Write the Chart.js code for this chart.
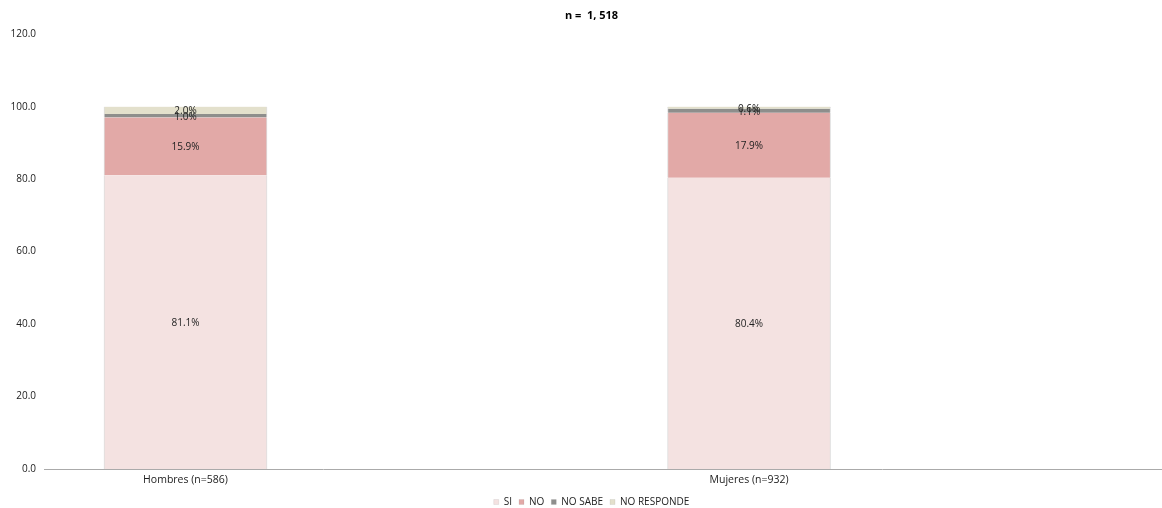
<!DOCTYPE html>
<html>
<head>
<meta charset="utf-8">
<script src="https://cdn.jsdelivr.net/npm/chart.js@4/dist/chart.umd.min.js"></script>
<style>
  html, body { margin: 0; padding: 0; background: #fff; }
  #wrap { width: 1162px; height: 508px; }
</style>
</head>
<body>
<div id="wrap"><canvas id="encuesta"></canvas></div>
<script>
var categories = ["Hombres (n=586)", "Mujeres (n=932)"];
var si = [81.1, 80.4];
var no = [15.9, 17.9];
var noSabe = [1.0, 1.1];
var noResponde = [2.0, 0.6];
var yTicks = [0, 20, 40, 60, 80, 100, 120];

var FONT = "'Open Sans', 'Noto Sans', sans-serif";

function toPoints(arr) {
    return arr.map(function (v, i) { return { x: i, y: v }; });
}

// draws the percent text in the middle of every segment
var segmentLabels = {
    id: "segmentLabels",
    afterDatasetsDraw: function (chart) {
        var ctx = chart.ctx;
        ctx.save();
        ctx.font = "10px " + FONT;
        ctx.fillStyle = "#222";
        ctx.textAlign = "center";
        ctx.textBaseline = "middle";
        chart.data.datasets.forEach(function (ds, di) {
            chart.getDatasetMeta(di).data.forEach(function (bar, i) {
                var mid = (bar.y + bar.base) / 2;
                ctx.fillText(ds.data[i].y.toFixed(1) + "%", bar.x, mid + 1);
            });
        });
        ctx.restore();
    }
};

// thin legend band, and title/legend nudged right like in the original
function nudge(box, dx) {
    var draw = box.draw;
    box.draw = function (area) {
        var ctx = this.ctx;
        ctx.save();
        ctx.translate(dx, 0);
        draw.call(this, area);
        ctx.restore();
    };
}

var tweakBoxes = {
    id: "tweakBoxes",
    afterInit: function (chart) {
        var legend = chart.legend;
        if (legend) {
            var fit = legend.fit;
            legend.fit = function () {
                fit.call(this);
                this.height = 18;
            };
            nudge(legend, 11);
        }
        if (chart.titleBlock) nudge(chart.titleBlock, 11);
    }
};

var config = {
    type: "bar",
    data: {
        datasets: [
            { label: "SI", data: toPoints(si), backgroundColor: "#f4e2e1" },
            { label: "NO", data: toPoints(no), backgroundColor: "#e2a9a7" },
            { label: "NO SABE", data: toPoints(noSabe), backgroundColor: "#8e8e8c" },
            { label: "NO RESPONDE", data: toPoints(noResponde), backgroundColor: "#e3e0cc" }
        ]
    },
    options: {
        responsive: true,
        maintainAspectRatio: false,
        animation: false,
        layout: { padding: { left: 0, right: 1, top: 0, bottom: 0 } },
        datasets: {
            bar: {
                barThickness: 163,
                borderColor: "rgba(120,120,120,0.25)",
                borderWidth: { left: 1, right: 1, top: 0, bottom: 0 },
                borderSkipped: false
            }
        },
        scales: {
            x: {
                type: "linear",
                stacked: true,
                offset: false,
                min: -0.2511,
                max: 1.731,
                grid: { display: false, drawTicks: false, offset: false },
                border: { display: true, color: "#aaaaaa", width: 1 },
                afterBuildTicks: function (axis) {
                    axis.ticks = categories.map(function (c, i) { return { value: i }; });
                },
                afterFit: function (axis) { axis.height = 21; },
                ticks: {
                    padding: 5,
                    autoSkip: false,
                    maxRotation: 0,
                    color: "#222",
                    font: { family: FONT, size: 10.5 },
                    callback: function (v) { return categories[v] || ""; }
                }
            },
            y: {
                stacked: true,
                min: 0,
                max: 120,
                grid: { display: false, drawTicks: false },
                border: { display: false },
                afterBuildTicks: function (axis) {
                    axis.ticks = yTicks.map(function (t) { return { value: t }; });
                },
                afterFit: function (axis) { axis.width = 44; },
                ticks: {
                    padding: 8,
                    color: "#222",
                    font: { family: FONT, size: 10 },
                    callback: function (v) { return v.toFixed(1); }
                }
            }
        },
        plugins: {
            legend: {
                position: "bottom",
                labels: {
                    boxWidth: 5,
                    boxHeight: 5,
                    padding: 7,
                    color: "#222",
                    font: { family: FONT, size: 10 }
                }
            },
            title: {
                display: true,
                text: "n =  1, 518",
                color: "#000",
                font: { family: FONT, size: 11, weight: "bold" },
                padding: { top: 9, bottom: 12 }
            },
            tooltip: { enabled: false }
        }
    },
    plugins: [tweakBoxes, segmentLabels]
};

var encuestaChart = new Chart(document.getElementById("encuesta"), config);
</script>
</body>
</html>
